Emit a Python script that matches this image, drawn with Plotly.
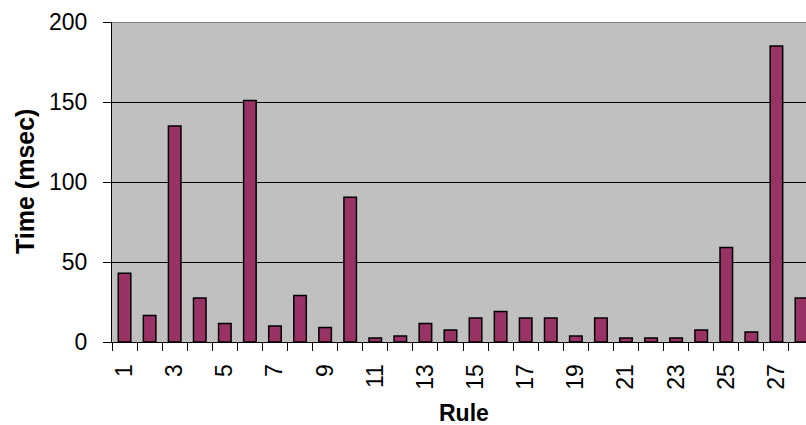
import plotly.graph_objects as go

rules = [str(i) for i in range(1, 29)]
times = [43, 16.5, 135, 27.5, 11.5, 151, 10, 29, 9, 90.5,
         2.5, 3.8, 11.5, 7.5, 15, 19, 15, 15, 3.8, 15,
         2.5, 2.5, 2.5, 7.5, 59, 6.3, 185, 27.5]
tick_text = [r if int(r) % 2 == 1 else "" for r in rules]
y_ticks = [0, 50, 100, 150, 200]

FONT = "Arial, Liberation Sans, sans-serif"

fig = go.Figure(go.Bar(
    x=rules, y=times, width=0.5,
    marker=dict(color="#993366", line=dict(color="black", width=1.5)),
))

fig.update_layout(
    width=806, height=425,
    margin=dict(l=112, r=0, t=22, b=83, autoexpand=False),
    paper_bgcolor="white", plot_bgcolor="#C0C0C0",
    showlegend=False, bargap=0.5,
    font=dict(family=FONT, color="black", size=22),
)
fig.update_xaxes(
    type="category", range=[-0.5, 27.18], automargin=False,
    tickmode="array", tickvals=rules, ticktext=tick_text,
    tickson="boundaries", ticks="outside", ticklen=8, tickcolor="black",
    tickangle=-90, tickfont=dict(size=23, family=FONT),
    showline=True, linecolor="black", linewidth=1,
    showgrid=False, ticklabelstandoff=12,
)
fig.update_yaxes(
    range=[0, 200], tickvals=y_ticks, automargin=False,
    ticks="outside", ticklen=8, tickcolor="black",
    tickfont=dict(size=23, family=FONT),
    showline=True, linecolor="black", linewidth=1,
    showgrid=True, gridcolor="black", gridwidth=1,
    zeroline=False, ticklabelstandoff=11,
)
fig.add_shape(type="line", xref="paper", yref="y", x0=0, x1=1, y0=200, y1=200,
              line=dict(color="#808080", width=2), layer="above")
fig.add_annotation(text="<b>Rule</b>", xref="paper", yref="paper",
                   x=(464 - 112) / 694, y=-(413 - 342) / 320,
                   showarrow=False, font=dict(size=23, family=FONT),
                   xanchor="center", yanchor="middle")
fig.add_annotation(text="<b>Time (msec)</b>", xref="paper", yref="paper",
                   x=-(112 - 25) / 694, y=0.5, textangle=-90,
                   showarrow=False, font=dict(size=25, family=FONT),
                   xanchor="center", yanchor="middle")

fig.write_html("out.html", config={"displayModeBar": False},
               post_script="document.body.style.margin='0';document.body.style.overflow='hidden';")
